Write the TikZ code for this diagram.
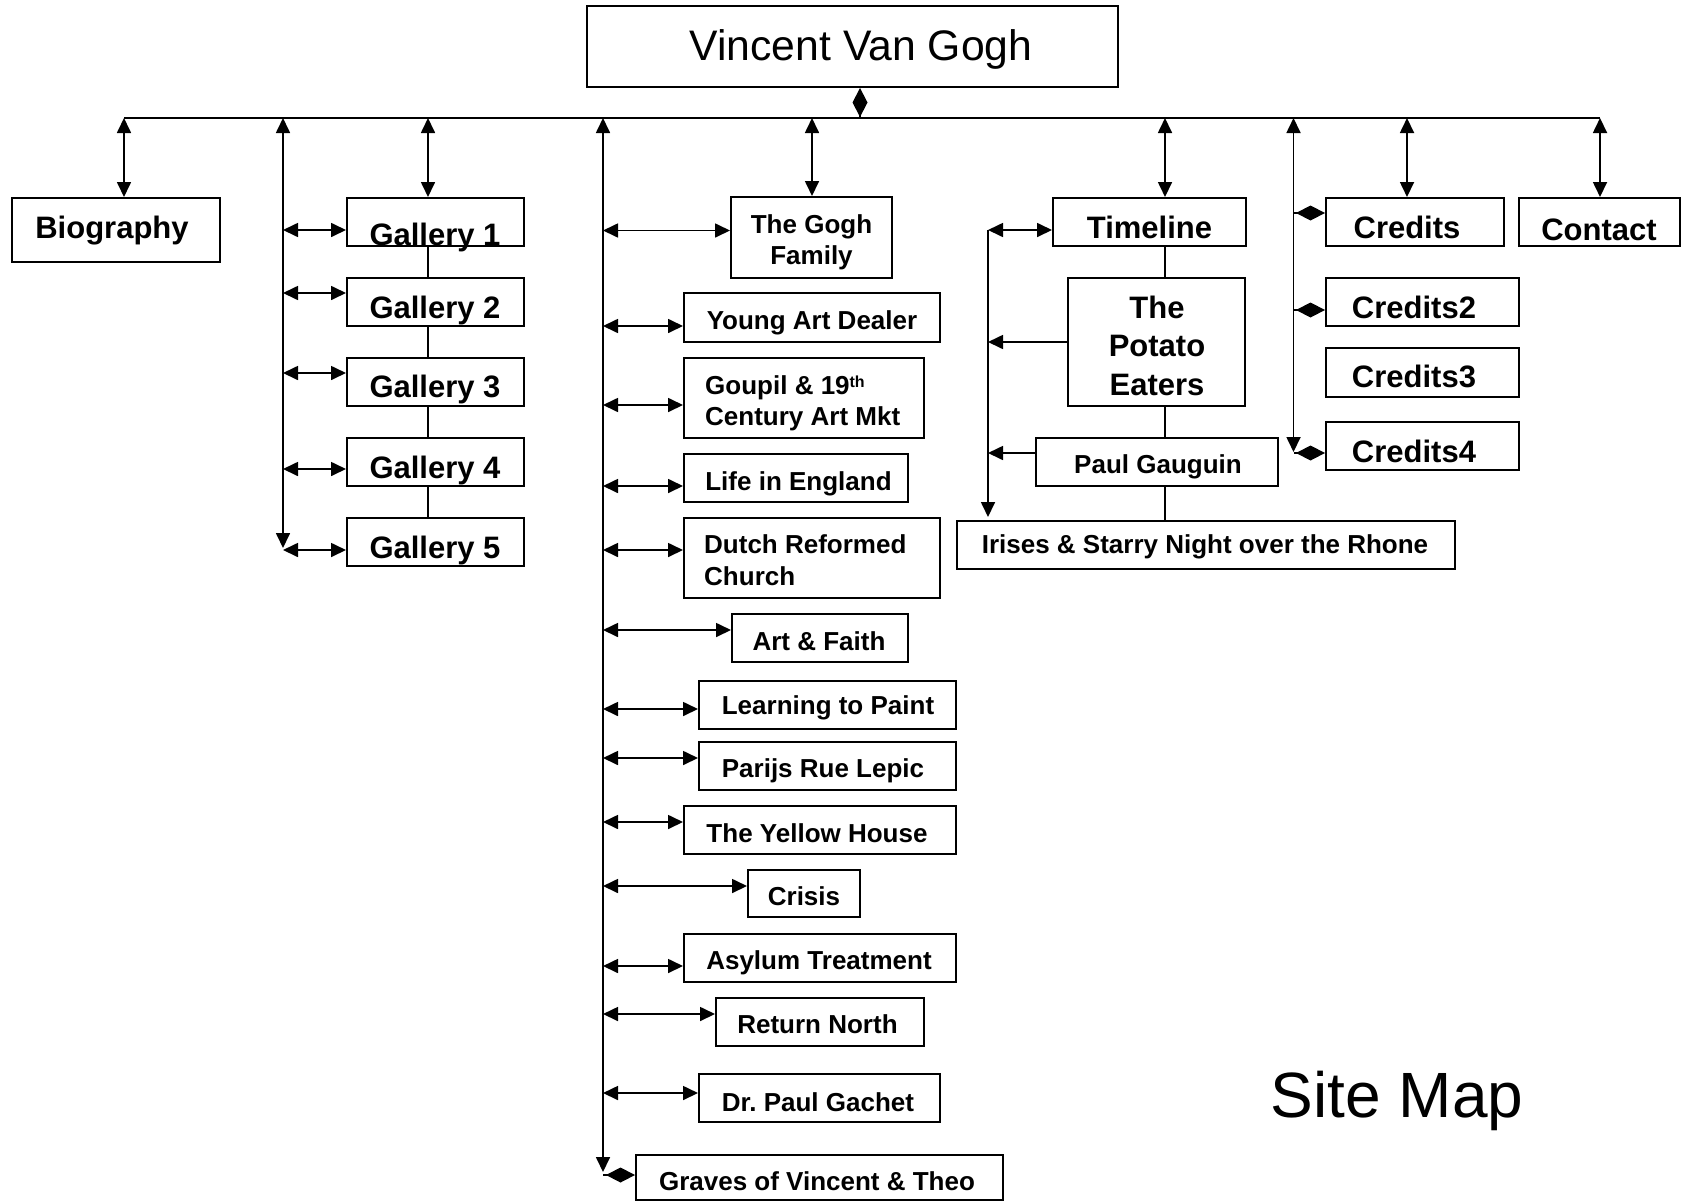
\documentclass[tikz,border=0pt]{standalone}
\usepackage{fontspec}
\setmainfont{Liberation Sans}
\usetikzlibrary{arrows.meta}
\newcommand\mkbox[6]{%
  \pgfmathsetmacro\bw{#4-#2}\pgfmathsetmacro\bh{#5-#3}%
  \node[bx, minimum width=\bw pt, minimum height=\bh pt, #6] (#1) at ({(#2+#4)/2},{(#3+#5)/2}) {};}
\newcommand\lbl[5]{%
  \node[anchor=base, inner sep=0pt, font=\bfseries\fontsize{#4}{#4}\selectfont] (#1) at (#2,#3) {#5};}
\tikzset{
  bx/.style={draw, rectangle, line width=2pt, inner sep=0pt},
  ln/.style={line width=1.7pt},
  thinln/.style={line width=1.3pt},
  dbl/.style={ln, {Triangle[length=15pt,width=14pt]}-{Triangle[length=15pt,width=14pt]}},
  tip/.style={ln, -{Triangle[length=15pt,width=14pt]}},
  dia/.style={ln, -{Diamond[length=29pt,width=15pt]}},
}
\begin{document}
\begin{tikzpicture}[x=1pt,y=-1pt]
\useasboundingbox[fill=white] (0,0) rectangle (1685,1202);
% ---- boxes
\mkbox{vgog}{587}{6}{1118}{87}{}
\mkbox{bio}{12}{198}{220}{262}{}
\mkbox{g1}{347}{198}{524}{246}{}
\mkbox{g2}{347}{278}{524}{326}{}
\mkbox{g3}{347}{358}{524}{406}{}
\mkbox{g4}{347}{438}{524}{486}{}
\mkbox{g5}{347}{518}{524}{566}{}
\mkbox{gogh}{731}{197}{892}{278}{}
\mkbox{yad}{684}{293}{940}{342}{}
\mkbox{goup}{684}{358}{924}{438}{}
\mkbox{life}{684}{454}{908}{502}{}
\mkbox{dutch}{684}{518}{940}{598}{}
\mkbox{faith}{732}{614}{908}{662}{}
\mkbox{learn}{699}{681}{956}{729}{}
\mkbox{parijs}{699}{742}{956}{790}{}
\mkbox{yellow}{684}{806}{956}{854}{}
\mkbox{crisis}{748}{870}{860}{917}{}
\mkbox{asylum}{684}{934}{956}{982}{}
\mkbox{return}{716}{998}{924}{1046}{}
\mkbox{gachet}{699}{1074}{940}{1122}{}
\mkbox{graves}{636}{1155}{1003}{1200}{}
\mkbox{timeline}{1053}{198}{1246}{246}{}
\mkbox{potato}{1068}{278}{1245}{406}{}
\mkbox{gauguin}{1036}{438}{1278}{486}{}
\mkbox{irises}{957}{521}{1455}{569}{}
\mkbox{credits}{1326}{198}{1504}{246}{}
\mkbox{credits2}{1326}{278}{1519}{326}{}
\mkbox{credits3}{1326}{348}{1519}{397}{}
\mkbox{credits4}{1326}{422}{1519}{470}{}
\mkbox{contact}{1519}{198}{1680}{246}{}
% ---- texts
\node[anchor=base, inner sep=0pt, font=\fontsize{42.7}{50}\selectfont] (vgog-t) at (861,60) {Vincent Van Gogh};
\node[anchor=base, inner sep=0pt, font=\fontsize{64}{72}\selectfont] (sitemap) at (1397,1117) {Site Map};
\lbl{bio-t}{112}{238}{31}{Biography}
\lbl{g1-t}{435}{245}{31}{Gallery 1}
\lbl{g2-t}{435}{318}{31}{Gallery 2}
\lbl{g3-t}{435}{397}{31}{Gallery 3}
\lbl{g4-t}{435}{478}{31}{Gallery 4}
\lbl{g5-t}{435}{558}{31}{Gallery 5}
\lbl{timeline-t}{1149.5}{238}{31}{Timeline}
\lbl{credits-t}{1407}{238}{31}{Credits}
\lbl{contact-t}{1599}{240}{31}{Contact}
\lbl{credits2-t}{1414}{318}{31}{Credits2}
\lbl{credits3-t}{1414}{387}{31}{Credits3}
\lbl{credits4-t}{1414}{462}{31}{Credits4}
\lbl{gauguin-t}{1158}{473}{26}{Paul Gauguin}
\lbl{irises-t}{1205}{553}{26}{Irises \& Starry Night over the Rhone}
\lbl{yad-t}{812}{329}{26}{Young Art Dealer}
\lbl{life-t}{798.5}{490}{26}{Life in England}
\lbl{faith-t}{819}{650}{26}{Art \& Faith}
\lbl{learn-t}{828}{714}{26}{Learning to Paint}
\lbl{parijs-t}{823}{777}{26}{Parijs Rue Lepic}
\lbl{yellow-t}{817}{842}{26}{The Yellow House}
\lbl{crisis-t}{804}{905}{26}{Crisis}
\lbl{asylum-t}{819}{969}{26}{Asylum Treatment}
\lbl{return-t}{817.5}{1033}{26}{Return North}
\lbl{gachet-t}{818}{1111}{26}{Dr.\ Paul Gachet}
\lbl{graves-t}{817}{1190}{26}{Graves of Vincent \& Theo}
\node[anchor=north, inner sep=0pt, align=center, font=\bfseries\fontsize{26}{31}\selectfont] (gogh-t) at (811.5,214) {The Gogh\\Family};
\node[anchor=north west, inner sep=0pt, align=left, font=\bfseries\fontsize{26}{31}\selectfont] (goup-t) at (705,375) {Goupil \& 19\raisebox{7pt}{\fontsize{16}{16}\selectfont th}\\Century Art Mkt};
\node[anchor=north west, inner sep=0pt, align=left, font=\bfseries\fontsize{26}{32}\selectfont] (dutch-t) at (704,534) {Dutch Reformed\\Church};
\node[anchor=north, inner sep=0pt, align=center, font=\bfseries\fontsize{31}{38.5}\selectfont] (potato-t) at (1157,295.5) {The\\Potato\\Eaters};
% ---- top bus
\coordinate (busL) at (124,118);
\coordinate (busR) at (1600,118);
\coordinate (vd) at (860,118);
\draw[ln] (busL) -- (busR);
\draw[ln, {Diamond[length=29pt,width=15pt]}-] (vgog.south -| vd) -- (vd);
\draw[dbl] (busL) -- (busL |- bio.north);
\draw[dbl] (busR) -- (busR |- contact.north);
% ---- galleries
\coordinate (gb) at (283,118);
\coordinate (gbe) at (283,548);
\coordinate (gt) at (428,118);
\draw[dbl] (gb) -- (gbe);
\draw[dbl] (gt) -- (gt |- g1.north);
\foreach \n/\y in {1/230,2/293,3/373,4/469,5/550}{
  \coordinate (ga\n) at (283,\y);
  \draw[dbl] (ga\n) -- (ga\n -| g\n.west);
}
\draw[thinln] (g1.south -| gt) -- (g2.north -| gt);
\draw[thinln] (g2.south -| gt) -- (g3.north -| gt);
\draw[thinln] (g3.south -| gt) -- (g4.north -| gt);
\draw[thinln] (g4.south -| gt) -- (g5.north -| gt);
% ---- biography column
\coordinate (mb) at (603,118);
\coordinate (mbe) at (603,1172);
\coordinate (gf) at (812,118);
\draw[dbl] (mb) -- (mbe);
\draw[dbl] (gf) -- (gf |- gogh.north);
\foreach \b/\y in {gogh/230.5,yad/326,goup/405,life/486,dutch/550,faith/630,learn/709,parijs/758,yellow/822,crisis/886,asylum/966,return/1014,gachet/1093}{
  \coordinate (m-\b) at (603,\y);
  \draw[dbl] (m-\b) -- (m-\b -| \b.west);
}
\coordinate (m-graves) at (603,1175);
\draw[dia] (m-graves) -- (m-graves -| graves.west);
% ---- timeline column
\coordinate (tl) at (1165,118);
\coordinate (tb) at (988,230);
\coordinate (tbe) at (988,517);
\coordinate (tp) at (988,342);
\coordinate (tg) at (988,453);
\draw[dbl] (tl) -- (tl |- timeline.north);
\draw[dbl] (tb) -- (tb -| timeline.west);
\draw[tip] (tb) -- (tbe);
\draw[tip] (potato.west |- tp) -- (tp);
\draw[tip] (gauguin.west |- tg) -- (tg);
\draw[thinln] (timeline.south -| tl) -- (potato.north -| tl);
\draw[thinln] (potato.south -| tl) -- (gauguin.north -| tl);
\draw[thinln] (gauguin.south -| tl) -- (irises.north -| tl);
% ---- credits column
\coordinate (cb) at (1293.5,118);
\coordinate (cbe) at (1293.5,452);
\coordinate (cr) at (1407,118);
\draw[dbl] (cb) -- (cbe);
\draw[dbl] (cr) -- (cr |- credits.north);
\coordinate (c1) at (1293.5,213);
\coordinate (c2) at (1293.5,310);
\coordinate (c4) at (1293.5,453);
\draw[dia] (c1) -- (c1 -| credits.west);
\draw[dia] (c2) -- (c2 -| credits2.west);
\draw[dia] (c4) -- (c4 -| credits4.west);
\end{tikzpicture}
\end{document}
